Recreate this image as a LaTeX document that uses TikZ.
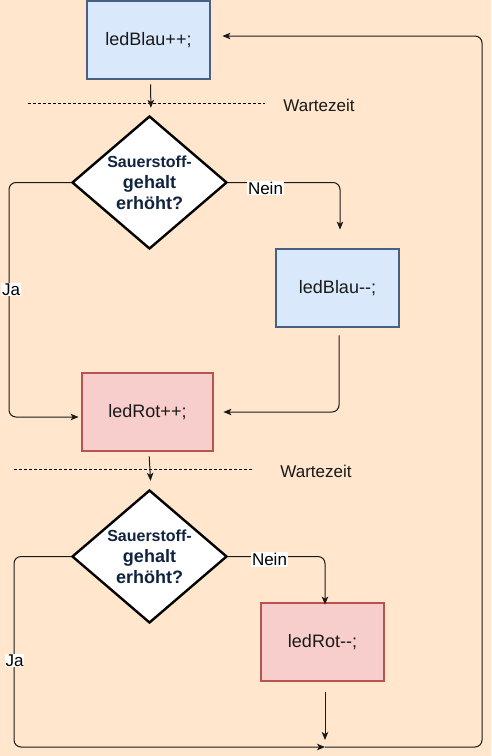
\documentclass[tikz,border=0pt]{standalone}
\usepackage{fontspec}
\setmainfont{Liberation Sans}
\usetikzlibrary{shapes.geometric,arrows.meta}
\definecolor{bgc}{RGB}{255,230,204}
\definecolor{bluefill}{RGB}{218,232,252}
\definecolor{blueline}{RGB}{72,96,130}
\definecolor{redfill}{RGB}{248,206,204}
\definecolor{redline}{RGB}{184,84,80}
\definecolor{navy}{RGB}{16,35,64}
\definecolor{edgec}{RGB}{25,25,25}
\begin{document}
\begin{tikzpicture}[x=1pt,y=-1pt,
  box/.style={rectangle,line width=2.8pt,minimum width=123pt,minimum height=78pt,inner sep=0pt,
    font=\fontsize{18}{20}\selectfont,text=black!90},
  bluebox/.style={box,draw=blueline,fill=bluefill},
  redbox/.style={box,draw=redline,fill=redfill},
  decide/.style={diamond,draw=black,fill=white,line width=2.4pt,minimum width=155pt,minimum height=133pt,inner sep=0pt},
  decidetext/.style={align=center,text=navy,font=\bfseries\fontsize{18}{21}\selectfont},
  conn/.style={draw=edgec,line width=1pt,rounded corners=7pt},
  arr/.style={conn,-{Stealth[length=8pt,width=6.5pt,inset=2pt]}},
  lbl/.style={fill=white,inner sep=1pt,font=\fontsize{17}{19}\selectfont,text=black},
  waitline/.style={draw=black,line width=0.8pt,dash pattern=on 3pt off 2pt},
  waittext/.style={font=\fontsize{17}{19}\selectfont,text=black!90}]
\fill[bgc] (0,0) rectangle (491,756);
\useasboundingbox (0,0) rectangle (491,756);

\node[bluebox] (b1) at (148.5,40) {ledBlau++;};
\node[bluebox] (b2) at (337.5,288) {ledBlau-{}-;};
\node[redbox,minimum width=131pt] (b3) at (147.5,412) {ledRot++;};
\node[redbox] (b4) at (322.5,642) {ledRot-{}-;};

\node[decide] (d1) at (149.5,182.5) {};
\node[decidetext] (d1t) at (149.5,183) {{\fontsize{16}{21}\selectfont Sauerstoff-}\\gehalt\\erhöht?};
\node[decide] (d2) at (149.5,556.5) {};
\node[decidetext] (d2t) at (149.5,557) {{\fontsize{16}{21}\selectfont Sauerstoff-}\\gehalt\\erhöht?};

% waiting lines
\coordinate (w1a) at (28,103);
\coordinate (w1b) at (265,103);
\draw[waitline] (w1a) -- (w1b);
\node[waittext] (w1) at (319,105.5) {Wartezeit};
\coordinate (w2a) at (14,469);
\coordinate (w2b) at (252,469);
\draw[waitline] (w2a) -- (w2b);
\node[waittext] (w2) at (316,471.5) {Wartezeit};

% helper coordinates
\coordinate (ja1) at (9,417);
\coordinate (ja2) at (14,747);
\coordinate (merge) at (325,747);
\coordinate (loopr) at (482,747);
\coordinate (loopt) at (482,36);

% connectors
\draw[arr,shorten <=4pt,shorten >=7pt] ([xshift=2pt]b1.south) -- ([xshift=1.5pt]d1.north);
\draw[arr,shorten >=18pt] (d1.east) -| ([xshift=2.5pt]b2.north);
\draw[arr] (d1.west) -| (ja1) -- ([xshift=-2pt]b3.west |- ja1);
\draw[arr,shorten <=7pt] ([xshift=1.5pt]b2.south) |- ([xshift=9pt]b3.east);
\draw[arr,shorten <=4pt,shorten >=8pt] ([xshift=1.5pt]b3.south) -- ([xshift=1.5pt]d2.north);
\draw[arr,shorten >=-3pt] (d2.east) -| ([xshift=2.5pt]b4.north);
\draw[arr] (d2.west) -| (ja2) -- (merge);
\draw[arr,shorten <=10pt,shorten >=7pt] ([xshift=2.5pt]b4.south) -- (merge);
\draw[arr] (merge) -- (loopr) -- (loopt) -- ([xshift=11pt]b1.east |- loopt);

% edge labels
\node[lbl] (n1) at (265.5,188) {Nein};
\node[lbl] (j1) at (11,289.5) {Ja};
\node[lbl] (n2) at (269.5,559.5) {Nein};
\node[lbl] (j2) at (14.5,660.5) {Ja};
\end{tikzpicture}
\end{document}
